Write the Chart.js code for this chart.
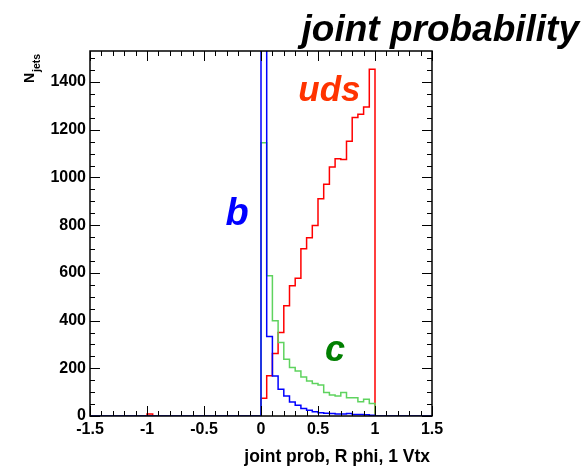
<!DOCTYPE html>
<html><head><meta charset="utf-8">
<script src="https://cdn.jsdelivr.net/npm/chart.js@4/dist/chart.umd.min.js"></script>
<style>html,body{margin:0;padding:0;background:#fff;}canvas{display:block;}</style>
</head><body>
<canvas id="c" width="586" height="466"></canvas>
<script>
// ---- data ----
const binWidth = 0.05;
const mainBinStart = 0.0;
const udsCounts = [74,169,262,350,462,546,577,701,747,799,911,971,1044,1078,1075,1152,1251,1265,1295,1453];
const cCounts   = [1145,588,399,308,238,203,189,164,147,136,130,98,88,84,98,77,77,60,70,52];
const bCounts   = [3000,333,168,112,84,59,45,31,24,18,14,12,11,8,8,11,6,6,5,3];
const udsExtraBinStart = -1.0;
const udsExtraCounts = [8];
const xRange = [-1.5, 1.5];
const yMax = 1530;
const xTicks = [-1.5,-1,-0.5,0,0.5,1,1.5];
const xTickLabels = ['-1.5','-1','-0.5','0','0.5','1','1.5'];
const yTicks = [0,200,400,600,800,1000,1200,1400];
const yTickLabels = ['0','200','400','600','800','1000','1200','1400'];
const labelText = {title:'joint probability', xTitle:'joint prob, R phi, 1 Vtx', yTitle:'N', ySub:'jets'};
const seriesNames = ['b','c','uds'];
const seriesLabelPos = {b:[-0.21,800], c:[0.65,232], uds:[0.6,1320]};

// ---- helpers ----
function histPoints(segments){
  const pts = [{x:xRange[0], y:0}];
  segments.forEach(([start, counts]) => {
    pts.push({x:start, y:0});
    counts.forEach((v,i)=>{
      const lo = start + i*binWidth, hi = lo + binWidth;
      pts.push({x:lo, y:v}, {x:hi, y:v});
    });
    pts.push({x:start + counts.length*binWidth, y:0});
  });
  pts.push({x:xRange[1], y:0});
  return pts;
}

const FONT = "'Liberation Sans', Arial, Helvetica, sans-serif";
const colors = {b:'#0000ff', c:'#5fd35f', uds:'#ff0000'};
const labelColors = {b:'#0000ff', c:'#007f00', uds:'#ff3300'};

const decor = {
  id:'decor',
  afterDraw(chart){
    const ctx = chart.ctx, ca = chart.chartArea;
    const xs = chart.scales.x, ys = chart.scales.y;
    ctx.save();
    // inward ticks
    ctx.strokeStyle = '#000'; ctx.lineWidth = 1;
    ctx.beginPath();
    for (let v = xRange[0]; v <= xRange[1] + 1e-9; v += 0.1) {
      const major = xTicks.some(t => Math.abs(t - v) < 1e-6);
      const L = major ? 10 : 5;
      const px = Math.round(xs.getPixelForValue(v)) + 0.5;
      ctx.moveTo(px, ca.bottom); ctx.lineTo(px, ca.bottom - L);
      ctx.moveTo(px, ca.top); ctx.lineTo(px, ca.top + L);
    }
    for (let v = 0; v <= yMax; v += 50) {
      const major = yTicks.includes(v);
      const L = major ? 10 : 5;
      const py = Math.round(ys.getPixelForValue(v)) + 0.5;
      ctx.moveTo(ca.left, py); ctx.lineTo(ca.left + L, py);
      ctx.moveTo(ca.right, py); ctx.lineTo(ca.right - L, py);
    }
    ctx.stroke();
    // frame
    ctx.lineWidth = 1.5;
    ctx.strokeRect(ca.left, ca.top, ca.right - ca.left, ca.bottom - ca.top);

    // series labels
    const sizes = {b:38, c:36, uds:35};
    seriesNames.forEach(n => {
      const [dx, dy] = seriesLabelPos[n];
      ctx.font = `italic bold ${sizes[n]}px ${FONT}`;
      ctx.fillStyle = labelColors[n];
      ctx.textAlign = 'center'; ctx.textBaseline = 'alphabetic';
      ctx.fillText(n, xs.getPixelForValue(dx), ys.getPixelForValue(dy));
    });

    // title
    ctx.fillStyle = '#000';
    ctx.font = `italic bold 37px ${FONT}`;
    ctx.textAlign = 'right';
    ctx.fillText(labelText.title, 579, 41);

    // x title
    ctx.font = `bold 17.5px ${FONT}`;
    ctx.textAlign = 'right';
    ctx.fillText(labelText.xTitle, 430, 462);

    // y title (rotated)
    ctx.save();
    ctx.translate(33.5, 83);
    ctx.rotate(-Math.PI/2);
    ctx.textAlign = 'left';
    ctx.font = `bold 14px ${FONT}`;
    ctx.fillText(labelText.yTitle, 0, 0);
    const w = ctx.measureText(labelText.yTitle).width;
    ctx.font = `bold 10.5px ${FONT}`;
    ctx.fillText(labelText.ySub, w + 1, 6);
    ctx.restore();

    ctx.restore();
  }
};

const mk = (name, pts) => ({
  label: name, data: pts, borderColor: colors[name], borderWidth: 1.5,
  pointRadius: 0, fill: false, tension: 0
});

new Chart(document.getElementById('c'), {
  type: 'line',
  data: {
    datasets: [
      mk('b', histPoints([[mainBinStart, bCounts]])),
      mk('c', histPoints([[mainBinStart, cCounts]])),
      mk('uds', histPoints([[udsExtraBinStart, udsExtraCounts],[mainBinStart, udsCounts]]))
    ]
  },
  options: {
    responsive: false, animation: false, devicePixelRatio: 1,
    layout: {padding: {top: 51, right: 154, left: 0, bottom: 0}},
    plugins: {legend: {display: false}, tooltip: {enabled: false}},
    scales: {
      x: {
        type: 'linear', min: xRange[0], max: xRange[1],
        afterBuildTicks: s => { s.ticks = xTicks.map(v => ({value: v})); },
        afterFit: s => { s.height = 50; },
        grid: {display: false, drawTicks: false},
        border: {display: false},
        ticks: {
          autoSkip: false, maxRotation: 0, padding: 4, color: '#000',
          font: {family: FONT, size: 16, weight: 'bold'},
          callback: v => xTickLabels[xTicks.findIndex(t => Math.abs(t - v) < 1e-9)]
        }
      },
      y: {
        type: 'linear', min: 0, max: yMax,
        afterBuildTicks: s => { s.ticks = yTicks.map(v => ({value: v})); },
        afterFit: s => { s.width = 90; },
        grid: {display: false, drawTicks: false},
        border: {display: false},
        ticks: {
          autoSkip: false, padding: 4, color: '#000',
          font: {family: FONT, size: 16, weight: 'bold'},
          callback: v => yTickLabels[yTicks.indexOf(v)]
        }
      }
    }
  },
  plugins: [decor]
});
</script>
</body></html>
